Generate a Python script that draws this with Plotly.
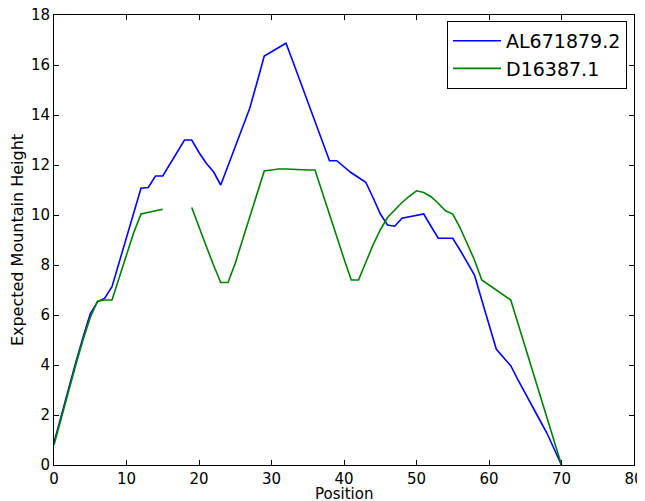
import plotly.graph_objects as go

positions = list(range(0, 71))

al671879 = [
    0.9, 2.0, 3.05, 4.1, 5.1, 6.05, 6.53, 6.67, 7.13, 8.1,
    9.1, 10.1, 11.07, 11.1, 11.56, 11.56, 12.05, 12.5, 13.0, 13.0,
    12.5, 12.07, 11.73, 11.2, 11.97, 12.74, 13.5, 14.27, 15.3, 16.36,
    16.53, 16.7, 16.87, 16.1, 15.3, 14.5, 13.7, 12.95, 12.17, 12.17,
    11.93, 11.69, 11.5, 11.31, 10.7, 10.05, 9.6, 9.55, 9.87, 9.93,
    9.98, 10.04, 9.55, 9.07, 9.07, 9.07, 8.6, 8.1, 7.6, 6.6,
    5.6, 4.64, 4.3, 3.97, 3.4, 2.85, 2.3, 1.8, 1.27, 0.65,
    0.0,
]

d16387 = [
    0.8, 1.9, 2.95, 4.0, 5.0, 5.9, 6.55, 6.6, 6.6, 7.5,
    8.4, 9.3, 10.04, 10.1, 10.17, 10.23, None, None, None, 10.3,
    9.5, 8.75, 8.0, 7.3, 7.3, 8.07, 9.0, 9.9, 10.85, 11.76,
    11.8, 11.84, 11.84, 11.82, 11.8, 11.8, 11.8, 10.9, 10.05, 9.15,
    8.25, 7.4, 7.4, 8.1, 8.8, 9.4, 9.9, 10.2, 10.5, 10.75,
    10.97, 10.9, 10.73, 10.47, 10.17, 10.04, 9.5, 8.85, 8.2, 7.4,
    7.2, 7.0, 6.8, 6.6, 5.66, 4.71, 3.77, 2.83, 1.89, 0.94,
    0.0,
]

series_names = ["AL671879.2", "D16387.1"]
series_colors = ["#0000ff", "#008000"]

x_ticks = [0, 10, 20, 30, 40, 50, 60, 70, 80]
y_ticks = [0, 2, 4, 6, 8, 10, 12, 14, 16, 18]

fig = go.Figure()
for name, vals, col in zip(series_names, [al671879, d16387], series_colors):
    fig.add_trace(go.Scatter(
        x=positions, y=vals, mode="lines", name=name,
        line=dict(color=col, width=1.6),
        connectgaps=False,
    ))

axis_common = dict(
    showgrid=False, zeroline=False, automargin=False,
    showline=True, linecolor="black", linewidth=1,
    mirror="ticks", ticks="inside", ticklen=5, tickcolor="black", tickwidth=1,
    tickfont=dict(family="DejaVu Sans", size=15, color="black"),
    ticklabeloverflow="allow",
)

# the page body adds an 8px offset, so margins are set to compensate
fig.update_layout(
    width=637, height=493,
    margin=dict(l=46, r=11, t=7, b=36),
    paper_bgcolor="white", plot_bgcolor="white",
    font=dict(family="DejaVu Sans", color="black"),
    xaxis=dict(range=[0, 80], tickvals=x_ticks, **axis_common),
    yaxis=dict(range=[0, 18], tickvals=y_ticks,
               title=dict(text="Expected Mountain Height", font=dict(size=16), standoff=8),
               **axis_common),
    legend=dict(
        x=0.988, y=0.987, xanchor="right", yanchor="top",
        bgcolor="white", bordercolor="black", borderwidth=1,
        font=dict(family="DejaVu Sans", size=19, color="black"),
        itemwidth=48,
    ),
    showlegend=True,
    annotations=[dict(
        text="Position", xref="paper", yref="paper", x=0.5, y=-0.064,
        xanchor="center", yanchor="middle", showarrow=False,
        font=dict(family="DejaVu Sans", size=15, color="black"),
    )],
)

fig.write_html("out.html")
